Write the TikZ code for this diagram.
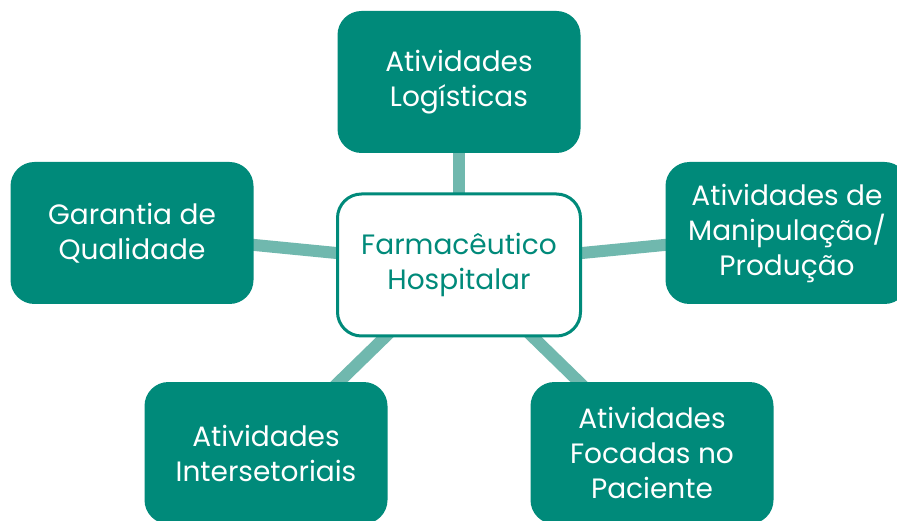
\documentclass[tikz,border=0pt]{standalone}
\usepackage{fontspec}
\setmainfont{Poppins}
\usetikzlibrary{backgrounds}
\definecolor{farmteal}{RGB}{0,138,122}
\definecolor{farmlight}{RGB}{112,184,174}
\begin{document}
\begin{tikzpicture}[x = 1pt, y = 1pt,
    topic/.style = {rectangle, rounded corners = 24pt, minimum width = 243pt,
      minimum height = 142pt, inner sep = 0pt, fill = farmteal, text = white,
      align = center, font = \fontsize{28}{35}\selectfont},
    hub/.style = {topic, fill = white, draw = farmteal, line width = 3pt, text = farmteal},
    link/.style = {line width = 12pt, farmlight}]
        \clip (0, 0) rectangle (897, 520);
        \useasboundingbox (0, 0) rectangle (897, 520);

        \node[hub] (hub) at (459, 255) {Farmacêutico\\Hospitalar};
        \node[topic] (logist) at (459, 438) {Atividades\\Logísticas};
        \node[topic] (quality) at (132, 287) {Garantia de\\Qualidade};
        \node[topic] (manip) at (787, 287) {Atividades de\\Manipulação/\\Produção};
        \node[topic] (inter) at (266, 67) {Atividades\\Intersetoriais};
        \node[topic] (patient) at (652, 67) {Atividades\\Focadas no\\Paciente};

        \begin{scope}[on background layer]
          \fill[white] (0, 0) rectangle (897, 520);
          \foreach \t in {logist, quality, manip, inter, patient}
            \draw[link] (hub.center) -- (\t.center);
        \end{scope}
      \end{tikzpicture}
\end{document}
